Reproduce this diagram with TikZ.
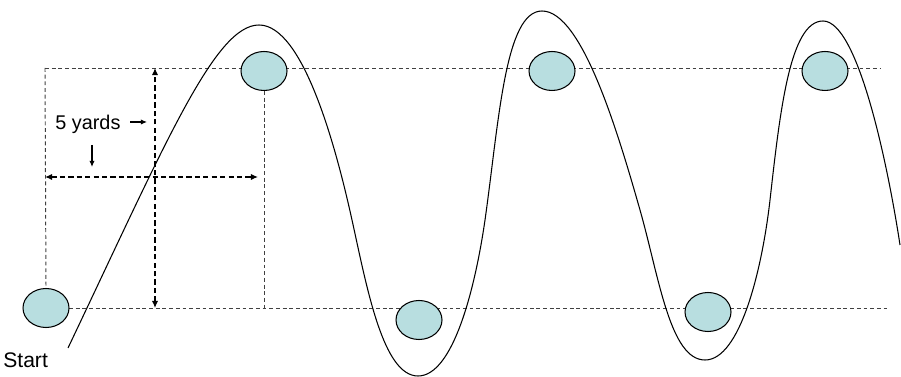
\documentclass[tikz,border=0pt]{standalone}
\usepackage{fontspec}
\setmainfont{Liberation Sans}
\usetikzlibrary{shapes.geometric,arrows.meta}
\tikzset{
  disc/.style={
    shape = ellipse,
    draw,
    fill = discfill,
    inner sep = 0pt,
    minimum width = 0.92cm,
    minimum height = 0.78cm,
    line width = 0.6pt
  },
  guide/.style={
    draw = black!75,
    line width = 0.55pt,
    dash pattern = on 2.2pt off 1.6pt
  },
  span/.style={
    draw,
    line width = 0.7pt,
    dash pattern = on 3pt off 1.8pt,
    {Latex[length=4pt,width=3.5pt]}-{Latex[length=4pt,width=3.5pt]}
  },
  hint/.style={
    draw,
    line width = 0.6pt,
    -{Latex[length=3.5pt,width=3pt]}
  },
  label/.style={
    font = \fontsize{11.3}{13}\selectfont,
    inner sep = 0pt
  }
}
\definecolor{discfill}{RGB}{184,222,224}
\begin{document}
\begin{tikzpicture}[x=0.02cm, y=-0.02cm]
    \useasboundingbox (0,0) rectangle (901,377);
    % guide lines
    \coordinate (tl) at (45,68);
    \coordinate (tr) at (880,68);
    \coordinate (bl) at (69,308);
    \coordinate (br) at (888,308);
    \draw[guide] (tl) -- (tr);
    \draw[guide] (bl) -- (br);
    % cones
    \node[disc] (d1) at (46,308) {};
    \node[disc] (d2) at (264,71) {};
    \node[disc] (d3) at (419,320) {};
    \node[disc] (d4) at (552,71) {};
    \node[disc] (d5) at (708,312) {};
    \node[disc] (d6) at (825,71) {};
    \draw[guide] (tl) -- (d1.north);
    \coordinate (b2) at (264,308);
    \draw[guide] (d2.south) -- (b2);
    % distances
    \coordinate (vt) at (155,68);
    \coordinate (vb) at (155,308);
    \coordinate (hl) at (45,177);
    \coordinate (hr) at (258,177);
    \draw[span] (vb) -- (vt);
    \draw[span] (hl) -- (hr);
    \node[label, anchor=west] (yd) at (55,124) {5 yards};
    \coordinate (ya) at (130,122);
    \coordinate (yb) at (147,122);
    \coordinate (yc) at (92,145);
    \coordinate (ye) at (92,167);
    \draw[hint] (ya) -- (yb);
    \draw[hint] (yc) -- (ye);
    \node[label, anchor=west, font=\fontsize{12}{14}\selectfont] (st) at (3,360) {Start};
    % path of the run
    \draw[line width=0.6pt] (68,348)
      .. controls (166,142) and (215,25) .. (259,25)
      .. controls (304,25) and (337,152) .. (352,220)
      .. controls (367,288) and (383,376) .. (418,376)
      .. controls (453,376) and (475,289) .. (485,220)
      .. controls (499,121) and (505,11) .. (542,11)
      .. controls (582,11) and (618,133) .. (640,210)
      .. controls (659,277) and (670,360) .. (705,360)
      .. controls (740,360) and (762,270) .. (770,200)
      .. controls (780,111) and (790,21) .. (823,21)
      .. controls (858,21) and (888,166) .. (900,245);
\end{tikzpicture}
\end{document}
